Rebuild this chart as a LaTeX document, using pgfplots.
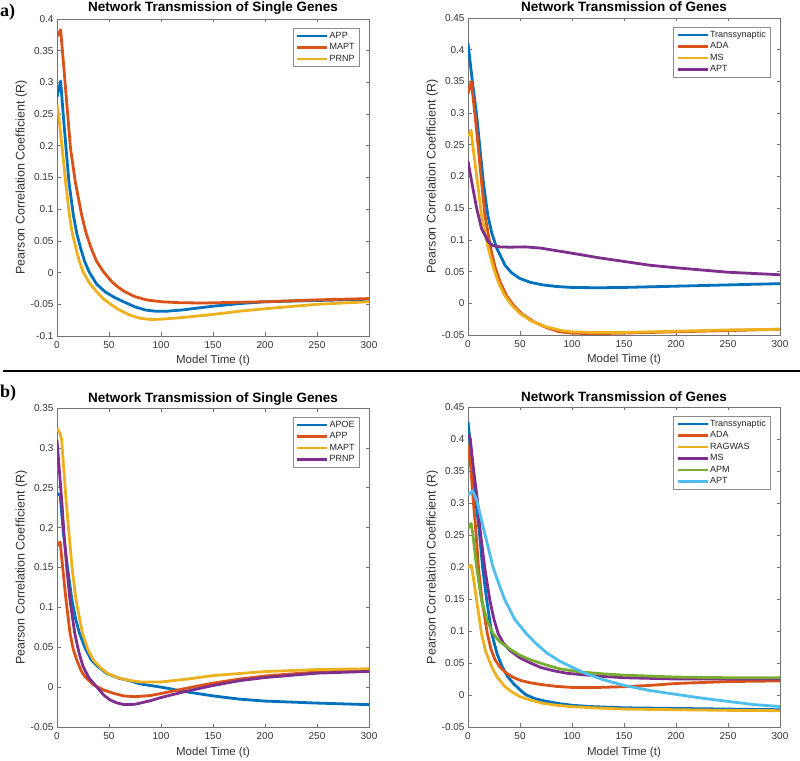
\documentclass[border=0pt]{standalone}
\usepackage{pgfplots}
\pgfplotsset{compat=1.18}
\usepackage{fontspec}
\setmainfont{Liberation Sans}
\newfontfamily\labfont{Liberation Serif}
\definecolor{mB}{rgb}{0,0.447,0.741}
\definecolor{mR}{rgb}{0.850,0.325,0.098}
\definecolor{mY}{rgb}{0.929,0.694,0.125}
\definecolor{mP}{rgb}{0.494,0.184,0.556}
\definecolor{mG}{rgb}{0.466,0.674,0.188}
\definecolor{mC}{rgb}{0.301,0.745,0.933}
\pgfplotsset{
 every axis title shift=0pt,
 mstyle/.style={
  scale only axis, width=312pt, anchor=south west,
  xmin=0, xmax=300, xtick={0,50,100,150,200,250,300},
  xticklabels={0,50,100,150,200,250,300},
  tick align=inside, major tick length=3.5pt,
  axis line style={black!55, line width=0.6pt},
  every tick/.style={black!55, line width=0.6pt},
  tick label style={font=\fontsize{10}{12}\selectfont, text=black!80},
  xticklabel style={yshift=-1.5pt},
  title style={font=\fontsize{13.5}{15}\selectfont\bfseries, at={(axis description cs:0.5,1)}, anchor=base, yshift=7pt},
  xlabel style={font=\fontsize{11.5}{13}\selectfont, text=black!80, at={(axis description cs:0.5,0)}, anchor=base, yshift=-28pt},
  ylabel style={font=\fontsize{12.5}{14}\selectfont, text=black!80, at={(axis description cs:-0.104,0.5)}, anchor=base},
  xlabel={Model Time (t)}, ylabel={Pearson Correlation Coefficient (R)},
  legend style={at={(axis description cs:1,1)}, anchor=north east, xshift=-10pt, yshift=-9pt,
    draw=black!45, line width=0.5pt, font=\fontsize{9}{10}\selectfont, text=black!85,
    inner xsep=3pt, inner ysep=2pt, row sep=0pt,
    nodes={inner sep=1pt, text height=7pt, text depth=2.5pt}},
  legend cell align=left,
  legend image code/.code={\draw[#1, line width=2.8pt] (0pt,0pt) -- (30pt,0pt);},
  every axis plot/.append style={line width=2.8pt, line join=round, no markers},
 }
}
\begin{document}
\begin{tikzpicture}
\path[use as bounding box] (0,0) rectangle (800pt,760pt);
% separator
\draw[line width=2pt] (3pt,389pt) -- (800pt,389pt);
\node[anchor=west, font=\labfont\bfseries\fontsize{18}{20}\selectfont, inner sep=0pt] at (0pt,748pt) {a)};
\node[anchor=west, font=\labfont\bfseries\fontsize{18}{20}\selectfont, inner sep=0pt] at (0pt,367pt) {b)};

% ---- a) left
\begin{axis}[mstyle, at={(57pt,424pt)}, height=317pt,
  ymin=-0.1, ymax=0.4,
  ytick={-0.1,-0.05,0,0.05,0.1,0.15,0.2,0.25,0.3,0.35,0.4},
  yticklabels={-0.1,-0.05,0,0.05,0.1,0.15,0.2,0.25,0.3,0.35,0.4},
  title={Network Transmission of Single Genes}]
\addplot[mB] coordinates {(0,0.277) (3.5,0.302) (6,0.249) (8.7,0.196) (11.5,0.143) (15.7,0.091) (19,0.062) (22.8,0.038) (26.5,0.018) (30.8,0.0015) (38,-0.018) (46,-0.030) (55,-0.039) (64,-0.046) (75,-0.054) (85,-0.059) (95,-0.061) (105,-0.061) (120,-0.059) (135,-0.056) (150,-0.053) (175,-0.049) (200,-0.046) (250,-0.044) (300,-0.042)};
\addplot[mR] coordinates {(0,0.372) (3.5,0.383) (7,0.315) (10,0.255) (13,0.196) (17.6,0.143) (23.7,0.091) (28,0.062) (33,0.038) (38,0.018) (44.6,0.0015) (52.5,-0.014) (58,-0.022) (65,-0.030) (75,-0.038) (86,-0.043) (100,-0.046) (118,-0.0475) (140,-0.048) (170,-0.047) (200,-0.046) (250,-0.043) (300,-0.041)};
\addplot[mY] coordinates {(0,0.265) (1.6,0.249) (5,0.196) (8.3,0.143) (11.9,0.091) (15,0.060) (18.3,0.038) (21.5,0.018) (25,0.0015) (31,-0.016) (38,-0.030) (45,-0.042) (52.5,-0.051) (60,-0.059) (70,-0.067) (80,-0.072) (90,-0.074) (100,-0.0735) (120,-0.071) (150,-0.066) (175,-0.061) (200,-0.057) (250,-0.050) (300,-0.046)};
\legend{APP,MAPT,PRNP}
\end{axis}

% ---- a) right
\begin{axis}[mstyle, at={(468pt,425pt)}, height=317pt,
  ymin=-0.05, ymax=0.45,
  ytick={-0.05,0,0.05,0.1,0.15,0.2,0.25,0.3,0.35,0.4,0.45},
  yticklabels={-0.05,0,0.05,0.1,0.15,0.2,0.25,0.3,0.35,0.4,0.45},
  title={Network Transmission of Genes}, title style={yshift=-1pt}]
\addplot[mB] coordinates {(0,0.41) (4.2,0.35) (8.3,0.297) (11.5,0.244) (14.7,0.192) (19,0.139) (23,0.110) (27.6,0.087) (35.6,0.060) (42,0.048) (50,0.039) (60,0.033) (72,0.029) (85,0.0265) (100,0.025) (125,0.0245) (150,0.025) (200,0.027) (250,0.029) (300,0.031)};
\addplot[mR] coordinates {(0,0.331) (3.2,0.35) (6.7,0.297) (10,0.244) (12.5,0.200) (16.3,0.139) (21.8,0.087) (26,0.057) (30.8,0.034) (37,0.012) (43.6,-0.003) (52,-0.017) (63,-0.029) (75,-0.038) (88,-0.045) (100,-0.047) (120,-0.048) (150,-0.047) (200,-0.045) (250,-0.043) (300,-0.041)};
\addplot[mY] coordinates {(0,0.263) (2.9,0.273) (5,0.244) (9,0.192) (13,0.139) (19.5,0.087) (24,0.058) (29,0.034) (35,0.013) (42,-0.003) (50,-0.016) (61,-0.028) (75,-0.037) (90,-0.043) (100,-0.045) (120,-0.046) (150,-0.046) (200,-0.044) (250,-0.042) (300,-0.041)};
\addplot[mP] coordinates {(0,0.224) (3.5,0.192) (8.3,0.150) (13,0.118) (19.5,0.097) (24,0.091) (30,0.089) (40,0.0885) (55,0.089) (70,0.087) (85,0.083) (100,0.079) (125,0.072) (150,0.066) (175,0.060) (200,0.056) (250,0.049) (300,0.045)};
\legend{Transsynaptic,ADA,MS,APT}
\end{axis}

% ---- b) left
\begin{axis}[mstyle, at={(57pt,33pt)}, height=319pt,
  ymin=-0.05, ymax=0.35,
  ytick={-0.05,0,0.05,0.1,0.15,0.2,0.25,0.3,0.35},
  yticklabels={-0.05,0,0.05,0.1,0.15,0.2,0.25,0.3,0.35},
  title={Network Transmission of Single Genes}, title style={yshift=-1.5pt}]
\addplot[mB] coordinates {(0,0.243) (3,0.241) (6,0.195) (10,0.151) (14.4,0.109) (18,0.085) (21.5,0.068) (27,0.049) (33,0.034) (40,0.025) (48,0.017) (60,0.011) (70,0.008) (80,0.004) (100,0.0) (125,-0.006) (150,-0.011) (175,-0.015) (200,-0.0175) (250,-0.020) (300,-0.022)};
\addplot[mR] coordinates {(0,0.177) (3,0.182) (5.4,0.151) (8.7,0.109) (12.5,0.068) (15.5,0.048) (19,0.034) (23,0.021) (27,0.013) (35,0.003) (44.6,-0.0035) (55,-0.008) (64,-0.011) (75,-0.012) (90,-0.0105) (100,-0.008) (115,-0.004) (130,0.0) (150,0.005) (175,0.010) (200,0.014) (250,0.019) (300,0.021)};
\addplot[mY] coordinates {(0,0.325) (3,0.318) (4.5,0.310) (6,0.283) (8.7,0.235) (11.5,0.193) (14.4,0.151) (18.3,0.109) (24.4,0.068) (30,0.046) (35,0.034) (42,0.024) (49,0.017) (58,0.012) (67,0.009) (80,0.0065) (100,0.0065) (125,0.010) (150,0.0145) (200,0.0195) (250,0.022) (300,0.023)};
\addplot[mP] coordinates {(0,0.310) (2,0.276) (4.5,0.235) (6.7,0.193) (9.3,0.151) (12.5,0.109) (17,0.068) (21,0.044) (25,0.026) (31,0.011) (38,0.0006) (45,-0.010) (51,-0.016) (58,-0.020) (65,-0.022) (75,-0.0215) (90,-0.017) (100,-0.013) (125,-0.005) (150,0.002) (175,0.008) (200,0.012) (250,0.0175) (300,0.0197)};
\legend{APOE,APP,MAPT,PRNP}
\end{axis}

% ---- b) right
\begin{axis}[mstyle, at={(468pt,33pt)}, height=320pt,
  ymin=-0.05, ymax=0.45,
  ytick={-0.05,0,0.05,0.1,0.15,0.2,0.25,0.3,0.35,0.4,0.45},
  yticklabels={-0.05,0,0.05,0.1,0.15,0.2,0.25,0.3,0.35,0.4,0.45},
  title={Network Transmission of Genes}, title style={yshift=-1.5pt}]
\addplot[mB] coordinates {(0,0.427) (4.5,0.357) (7.4,0.305) (11,0.253) (14,0.200) (18,0.148) (22.8,0.096) (28,0.064) (33,0.044) (38,0.029) (43.6,0.018) (50,0.008) (56,0.0) (65,-0.006) (75.6,-0.010) (90,-0.014) (100,-0.016) (117,-0.018) (150,-0.020) (200,-0.021) (250,-0.022) (300,-0.023)};
\addplot[mR] coordinates {(0,0.390) (2.6,0.357) (5,0.305) (7.7,0.253) (10,0.200) (13.5,0.148) (18.6,0.096) (22,0.072) (26,0.055) (31,0.043) (37,0.034) (43,0.028) (50,0.023) (60,0.019) (72,0.016) (85,0.0135) (98,0.012) (110,0.0115) (130,0.012) (150,0.013) (175,0.015) (200,0.018) (250,0.021) (300,0.022)};
\addplot[mY] coordinates {(0,0.200) (3,0.203) (5,0.185) (8.3,0.148) (13,0.096) (17,0.068) (22.8,0.044) (28,0.028) (35.6,0.013) (42,0.005) (50,-0.0026) (60,-0.008) (72,-0.013) (85,-0.016) (98,-0.018) (120,-0.020) (150,-0.022) (200,-0.023) (250,-0.024) (300,-0.0245)};
\addplot[mP] coordinates {(0,0.406) (2,0.402) (5,0.357) (9,0.305) (12,0.253) (16,0.200) (21,0.148) (25,0.118) (29,0.096) (34,0.081) (40,0.070) (50,0.058) (60,0.050) (70,0.043) (82,0.038) (95,0.034) (108,0.032) (130,0.029) (150,0.027) (200,0.025) (250,0.025) (300,0.025)};
\addplot[mG] coordinates {(0,0.260) (3,0.268) (4.5,0.253) (8.3,0.200) (13,0.148) (18,0.118) (24,0.096) (30,0.084) (40,0.072) (50,0.062) (60,0.055) (75,0.047) (88,0.041) (108,0.036) (130,0.033) (150,0.031) (200,0.028) (250,0.027) (300,0.027)};
\addplot[mC] coordinates {(0,0.3125) (4.5,0.319) (8.3,0.305) (12,0.280) (16,0.253) (24,0.200) (30,0.172) (35.6,0.148) (45,0.118) (56,0.096) (65,0.081) (75.6,0.066) (87,0.054) (98,0.045) (114,0.033) (130,0.024) (150,0.015) (175,0.007) (200,0.001) (225,-0.005) (250,-0.010) (275,-0.015) (300,-0.018)};
\legend{Transsynaptic,ADA,RAGWAS,MS,APM,APT}
\end{axis}
\end{tikzpicture}
\end{document}
